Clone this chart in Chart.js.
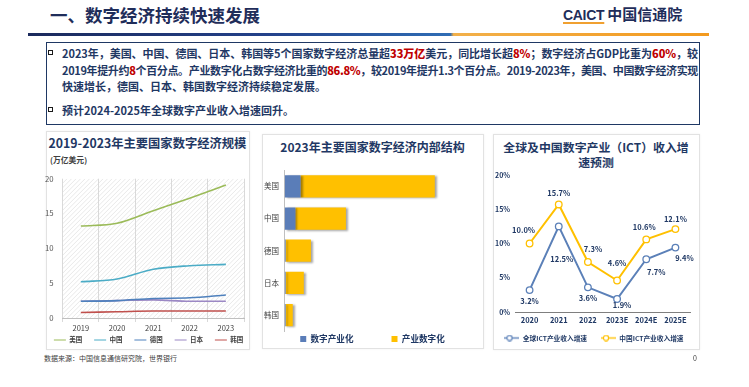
<!DOCTYPE html>
<html lang="zh">
<head>
<meta charset="UTF-8">
<title>数字经济持续快速发展</title>
<script src="https://cdn.jsdelivr.net/npm/chart.js"></script>
<style>
  body { margin: 0; width: 749px; height: 387px; background: #fff; position: relative; overflow: hidden;
         font-family: 'Noto Sans CJK SC', 'Noto Sans', sans-serif; color: #1f3864; }
  .abs { position: absolute; }
  #title { left: 50px; top: 3px; font-size: 17.5px; font-weight: bold; color: #1f2d5a; line-height: 24px; white-space: nowrap; }
  #logo { left: 563px; top: 4px; white-space: nowrap; line-height: 18px; }
  #logo .en { font-family: 'Liberation Sans', Arial, sans-serif; font-weight: bold; font-size: 14px; color: #1f2d5a;
              text-decoration: underline; text-decoration-color: #f0a030; text-decoration-thickness: 2px;
              text-underline-offset: 2px; letter-spacing: -0.3px; }
  #logo .cn { font-size: 15px; font-weight: bold; color: #1f2d5a; margin-left: 3px; }
  #rule { left: 28px; top: 33px; width: 681px; height: 2.5px;
          background: linear-gradient(to right, #1b2a5c 0%, #23418a 35%, #2f6db5 62%, #f2b04a 62.5%, #f39a1e 100%); }
  #box { left: 46px; top: 42px; width: 652px; height: 81px; border: 1px solid #1f3864; }
  .ln { position: absolute; left: 15px; height: 14px; line-height: 14px; font-size: 11px; font-weight: bold; white-space: nowrap; color: #1f3864; }
  .ln b { color: #c00000; }
  .sq { position: absolute; left: -14px; top: 4px; width: 3px; height: 3px; border: 1.3px solid #1a1a1a; }
  .panel { border: 1px solid #e2e2e2; box-shadow: 0 0 2px rgba(0,0,0,0.06); }
  .ptitle { font-size: 12.3px; font-weight: bold; color: #1f3864; text-align: center; line-height: 15px; white-space: nowrap; }
  #unit { left: 50px; top: 154px; font-size: 7.8px; font-weight: bold; color: #404040; }
  #foot { left: 44px; top: 353px; font-size: 7px; color: #404040; }
  #page { left: 693px; top: 353px; font-size: 7px; color: #404040; }
  canvas { position: absolute; }
</style>
</head>
<body>
<div id="title" class="abs">一、数字经济持续快速发展</div>
<div id="logo" class="abs"><span class="en">CAICT</span><span class="cn">中国信通院</span></div>
<div id="rule" class="abs"></div>

<div id="box" class="abs">
  <div class="ln fit" style="top:3px"><i class="sq"></i>2023年，美国、中国、德国、日本、韩国等5个国家数字经济总量超<b>33万亿</b>美元，同比增长超<b>8%</b>；数字经济占GDP比重为<b>60%</b>，较</div>
  <div class="ln fit" style="top:19.5px">2019年提升约<b>8</b>个百分点。产业数字化占数字经济比重的<b>86.8%</b>，较2019年提升1.3个百分点。2019-2023年，美国、中国数字经济实现</div>
  <div class="ln" style="top:36px">快速增长，德国、日本、韩国数字经济持续稳定发展。</div>
  <div class="ln" style="top:60px"><i class="sq"></i>预计2024-2025年全球数字产业收入增速回升。</div>
</div>

<div class="abs panel" style="left:46px;top:131px;width:202px;height:217px"></div>
<div class="abs panel" style="left:262px;top:134px;width:220px;height:213px"></div>
<div class="abs panel" style="left:493px;top:134px;width:205px;height:214px"></div>

<div class="abs ptitle" style="left:46px;top:136px;width:203px">2019-2023年主要国家数字经济规模</div>
<div id="unit" class="abs">(万亿美元)</div>
<div class="abs ptitle" style="left:262px;top:139px;width:221px;font-size:12px">2023年主要国家数字经济内部结构</div>
<div class="abs ptitle" style="left:493px;top:139px;width:206px;font-size:11.9px">全球及中国数字产业（ICT）收入增<br>速预测</div>

<canvas id="scaleChart" width="265" height="185" style="left:15px;top:165px"></canvas>
<canvas id="structChart" width="315" height="188" style="left:215px;top:160px"></canvas>
<canvas id="ictChart" width="250" height="185" style="left:470px;top:165px"></canvas>

<div id="foot" class="abs">数据来源：中国信息通信研究院，世界银行</div>
<div id="page" class="abs">0</div>

<script>
// ---- data ----
const years = ['2019', '2020', '2021', '2022', '2023'];
const usScale = [13.2, 13.6, 15.4, 17.2, 19.1];
const cnScale = [5.2, 5.6, 7.0, 7.5, 7.7];
const deScale = [2.4, 2.5, 2.8, 2.9, 3.3];
const jpScale = [2.4, 2.5, 2.6, 2.4, 2.4];
const krScale = [0.8, 0.9, 1.0, 1.0, 1.0];

const countries = ['美国', '中国', '德国', '日本', '韩国'];
const digitalIndustry = [2.0, 1.35, 0.12, 0.12, 0.12];   // 数字产业化
const industryDigital = [17.0, 6.4, 3.2, 2.3, 0.9];      // 产业数字化

const ictYears = ['2020', '2021', '2022', '2023E', '2024E', '2025E'];
const globalIct = [3.2, 12.5, 3.6, 1.9, 7.7, 9.4];
const chinaIct = [10.0, 15.7, 7.3, 4.6, 10.6, 12.1];

const FONT = "'Noto Sans CJK SC', 'Noto Sans', sans-serif";
Chart.defaults.font.family = FONT;

// stretch / squeeze the two full text lines to the box width
function fitLines() {
  document.querySelectorAll('.ln.fit').forEach(l => {
    l.style.letterSpacing = '0px';
    const n = l.textContent.length;
    const w = l.getBoundingClientRect().width;
    l.style.letterSpacing = ((636 - w) / n) + 'px';
  });
}
fitLines();
if (document.fonts) document.fonts.ready.then(fitLines);

// puts the legend row at a given centre (canvas px)
const legendShift = {
  id: 'legendShift',
  afterLayout(chart, args, opts) {
    const lg = chart.legend;
    if (!lg || opts.textY == null) return;
    lg.top = opts.textY - lg.options.labels.padding - opts.fontSize / 2;
    lg.bottom = opts.textY + opts.fontSize + 2;   // legend clips to its own box
    const half = (lg.right - lg.left) / 2;
    lg.left = opts.centerX - half;
    lg.right = opts.centerX + half;
  }
};

// diagonal hatch behind the left chart
const hatch = {
  id: 'hatch',
  beforeDraw(chart) {
    const { ctx, chartArea: a } = chart;
    ctx.save();
    ctx.beginPath();
    ctx.rect(a.left, a.top, a.width, a.height);
    ctx.clip();
    ctx.strokeStyle = '#e8e8e8';
    ctx.lineWidth = 1;
    ctx.beginPath();
    for (let k = -a.height; k < a.width; k += 4.5) {
      ctx.moveTo(a.left + k, a.bottom);
      ctx.lineTo(a.left + k + a.height, a.top);
    }
    ctx.stroke();
    ctx.restore();
  }
};

// soft shadow on bars
const barShadow = {
  id: 'barShadow',
  beforeDatasetsDraw(chart) {
    const ctx = chart.ctx;
    ctx.save();
    ctx.shadowColor = 'rgba(0,0,0,0.35)';
    ctx.shadowOffsetX = 2;
    ctx.shadowOffsetY = 1;
    ctx.shadowBlur = 2;
  },
  afterDatasetsDraw(chart) { chart.ctx.restore(); }
};

// value labels next to points
const pointLabels = {
  id: 'pointLabels',
  afterDatasetsDraw(chart, args, opts) {
    const ctx = chart.ctx;
    ctx.save();
    ctx.font = 'bold 7.5px ' + FONT;
    ctx.fillStyle = '#1f3864';
    ctx.textAlign = 'center';
    ctx.textBaseline = 'middle';
    chart.data.datasets.forEach((ds, di) => {
      chart.getDatasetMeta(di).data.forEach((pt, i) => {
        const off = opts.offsets[di][i];
        ctx.fillText(ds.data[i].toFixed(1) + '%', pt.x + off[0], pt.y + off[1]);
      });
    });
    ctx.restore();
  }
};

// left: 2019-2023 scale
new Chart(document.getElementById('scaleChart'), {
  type: 'line',
  data: {
    labels: years,
    datasets: [
      { label: '美国', data: usScale, borderColor: '#9bbb59' },
      { label: '中国', data: cnScale, borderColor: '#4bacc6' },
      { label: '德国', data: deScale, borderColor: '#4f81bd' },
      { label: '日本', data: jpScale, borderColor: '#9b88c4' },
      { label: '韩国', data: krScale, borderColor: '#c0504d' }
    ]
  },
  options: {
    responsive: false, animation: false, devicePixelRatio: 1,
    layout: { padding: { top: 10, right: 36, bottom: 0, left: 0 } },
    elements: {
      point: { radius: 0 },
      line: { borderWidth: 1.6, cubicInterpolationMode: 'monotone' }
    },
    scales: {
      x: {
        offset: true,
        grid: { offset: true, color: '#d9d9d9', tickLength: 4 },
        border: { color: '#bfbfbf' },
        ticks: { color: '#404040', font: { size: 7.5 }, padding: 2 },
        afterFit(s) { s.height = 20; }
      },
      y: {
        min: 0, max: 20,
        ticks: { stepSize: 5, color: '#595959', font: { size: 7.8 }, padding: 9 },
        grid: { display: false, drawTicks: false },
        border: { display: false },
        afterFit(s) { s.width = 47.7; }
      }
    },
    plugins: {
      legend: {
        position: 'bottom', maxHeight: 12,
        labels: { usePointStyle: true, pointStyle: 'line', pointStyleWidth: 12,
                  font: { size: 6.5, weight: 'bold' }, color: '#404040', padding: 12 }
      },
      legendShift: { textY: 175, fontSize: 6.5, centerX: 133.5 },
      tooltip: { enabled: false }
    }
  },
  plugins: [hatch, legendShift]
});

// middle: 2023 structure
new Chart(document.getElementById('structChart'), {
  type: 'bar',
  data: {
    labels: countries,
    datasets: [
      { label: '数字产业化', data: digitalIndustry, backgroundColor: '#5a7db8' },
      { label: '产业数字化', data: industryDigital, backgroundColor: '#ffc000' }
    ]
  },
  options: {
    indexAxis: 'y',
    responsive: false, animation: false, devicePixelRatio: 1,
    datasets: { bar: { categoryPercentage: 0.69, barPercentage: 1 } },
    layout: { padding: { top: 3.75, right: 55.7, bottom: 4.75, left: 0 } },
    scales: {
      x: { stacked: true, display: false, min: 0, max: 24 },
      y: {
        stacked: true,
        grid: { display: false, drawTicks: false },
        border: { display: true, color: '#bfbfbf' },
        ticks: { color: '#404040', font: { size: 7.5 }, padding: 5.7 },
        afterFit(s) { s.width = 69.7; }
      }
    },
    plugins: {
      legend: {
        position: 'bottom', maxHeight: 12,
        labels: { boxWidth: 6, boxHeight: 6, font: { size: 8.6, weight: 'bold' }, color: '#1f3864', padding: 38 }
      },
      legendShift: { textY: 179, fontSize: 8.6, centerX: 157.5 },
      tooltip: { enabled: false }
    }
  },
  plugins: [barShadow, legendShift]
});

// right: ICT growth
function legendIcon(color) {
  const c = document.createElement('canvas');
  c.width = 15; c.height = 7;
  const g = c.getContext('2d');
  g.strokeStyle = color;
  g.lineWidth = 1.4;
  g.beginPath(); g.moveTo(0, 3.5); g.lineTo(15, 3.5); g.stroke();
  g.fillStyle = '#fff';
  g.lineWidth = 1.2;
  g.beginPath(); g.arc(5, 3.5, 2.6, 0, Math.PI * 2); g.fill(); g.stroke();
  return c;
}

new Chart(document.getElementById('ictChart'), {
  type: 'line',
  data: {
    labels: ictYears,
    datasets: [
      { label: '全球ICT产业收入增速', data: globalIct, borderColor: '#5b80b8', pointBorderColor: '#5b80b8' },
      { label: '中国ICT产业收入增速', data: chinaIct, borderColor: '#ffc000', pointBorderColor: '#ffc000' }
    ]
  },
  options: {
    responsive: false, animation: false, devicePixelRatio: 1,
    layout: { padding: { top: 10, right: 30, bottom: 0, left: 0 } },
    elements: {
      line: { borderWidth: 2, tension: 0 },
      point: { radius: 3.3, backgroundColor: '#fff', borderWidth: 1.3 }
    },
    scales: {
      x: {
        offset: true,
        grid: { display: false, drawTicks: false },
        border: { color: '#7f7f7f', width: 1 },
        ticks: { color: '#1f3864', font: { size: 7.5, weight: 'bold' }, padding: 4 },
        afterFit(s) { s.height = 26; }
      },
      y: {
        min: 0, max: 20,
        ticks: { stepSize: 5, callback: v => v + '%', color: '#1f3864', font: { size: 7, weight: 'bold' }, padding: 5 },
        grid: { display: false, drawTicks: false },
        border: { display: false },
        afterFit(s) { s.width = 45; }
      }
    },
    plugins: {
      legend: {
        position: 'bottom', maxHeight: 12,
        labels: {
          usePointStyle: true, pointStyleWidth: 15,
          font: { size: 6.7, weight: 'bold' }, color: '#1f3864', padding: 14,
          generateLabels(chart) {
            const items = Chart.defaults.plugins.legend.labels.generateLabels(chart);
            items.forEach((it, i) => { it.pointStyle = legendIcon(chart.data.datasets[i].borderColor); });
            return items;
          }
        }
      },
      legendShift: { textY: 173, fontSize: 6.7, centerX: 124 },
      pointLabels: {
        offsets: [
          [[0, 11], [3, 33], [0, 11], [5, 6], [10, 13], [9, 11]],
          [[-6, -13], [0, -11], [5, -13], [0, -17], [-2, -12], [0, -10]]
        ]
      },
      tooltip: { enabled: false }
    }
  },
  plugins: [pointLabels, legendShift]
});
</script>
</body>
</html>
